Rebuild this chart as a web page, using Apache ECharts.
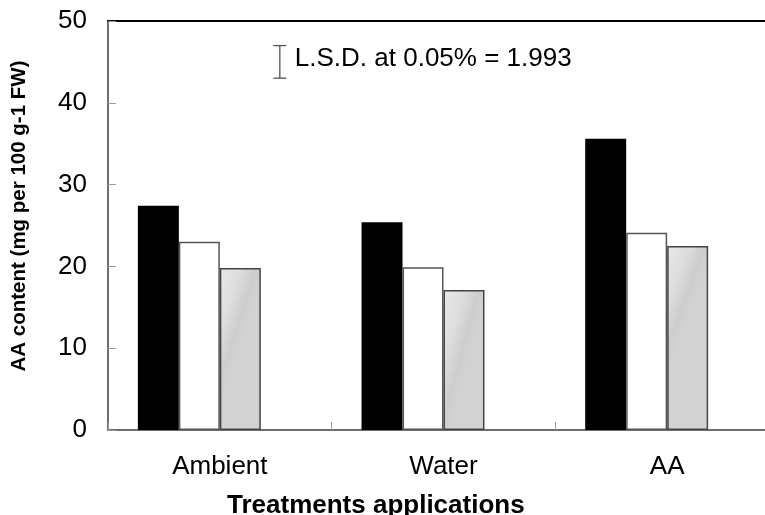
<!DOCTYPE html>
<html>
<head>
<meta charset="utf-8">
<script src="https://cdn.jsdelivr.net/npm/echarts@6/dist/echarts.min.js"></script>
<style>html,body{margin:0;padding:0;background:#fff}#c{width:765px;height:515px}</style>
</head>
<body>
<div id="c"></div>
<script>
var categories = ['Ambient', 'Water', 'AA'];
var seriesBlack = [27.4, 25.4, 35.6];
var seriesWhite = [23.0, 19.9, 24.1];
var seriesGray = [19.8, 17.1, 22.5];
var yTicks = [0, 10, 20, 30, 40, 50];
var lsdValue = 1.993;
var lsdCenter = 45;
var lsdLabel = 'L.S.D. at 0.05% = 1.993';

var FONT = 'Liberation Sans';
var chart = echarts.init(document.getElementById('c'), null, {renderer: 'canvas'});

var option = {
  animation: false,
  backgroundColor: '#fff',
  grid: {left: 108, right: -14, top: 21, bottom: 85, containLabel: false, outerBoundsMode: 'none'},
  title: {
    text: 'Treatments applications',
    left: 222, top: 488,
    textStyle: {fontFamily: FONT, fontWeight: 'bold', fontSize: 26, color: '#000'}
  },
  graphic: [{
    type: 'text',
    x: 19, y: 216, rotation: Math.PI / 2,
    style: {text: 'AA content (mg per 100 g-1 FW)', font: 'bold 20.5px ' + FONT,
            fill: '#000', align: 'center', verticalAlign: 'middle'}
  }],
  xAxis: [{
    type: 'category', data: categories,
    axisLine: {show: true, lineStyle: {color: '#6e6e6e', width: 2}},
    axisTick: {show: true, inside: true, length: 8, lineStyle: {color: '#999', width: 1}},
    axisLabel: {fontFamily: FONT, fontSize: 26, color: '#000', margin: 24},
    splitLine: {show: false}
  }, {
    type: 'category', data: categories, position: 'top',
    axisLine: {show: true, lineStyle: {color: '#000', width: 2}},
    axisTick: {show: false}, axisLabel: {show: false}, splitLine: {show: false}
  }],
  yAxis: {
    type: 'value', min: yTicks[0], max: yTicks[yTicks.length - 1], interval: 10,
    axisLine: {show: true, lineStyle: {color: '#6e6e6e', width: 2}},
    axisTick: {show: true, inside: true, length: 8, lineStyle: {color: '#999', width: 1}},
    axisLabel: {fontFamily: FONT, fontSize: 26, color: '#000', margin: 21},
    splitLine: {show: false}
  },
  series: [{
    type: 'bar', name: 'black', data: seriesBlack, barGap: '0%', barCategoryGap: '26.7%',
    itemStyle: {color: '#000'}
  }, {
    type: 'bar', name: 'white', data: seriesWhite,
    itemStyle: {color: '#fff', borderColor: '#555', borderWidth: 1.5}
  }, {
    type: 'bar', name: 'gray', data: seriesGray,
    itemStyle: {
      color: new echarts.graphic.LinearGradient(0, 0, 1, 0.08, [
        {offset: 0, color: '#e8e8e8'}, {offset: 0.45, color: '#dedede'},
        {offset: 0.8, color: '#cdcdcd'}, {offset: 1, color: '#d2d2d2'}
      ]),
      borderColor: '#444', borderWidth: 1.5
    }
  }, {
    type: 'bar', name: 'empty', data: [null, null, null]
  }, {
    type: 'custom', name: 'lsd', data: [[0, lsdCenter]],
    renderItem: function (params, api) {
      var c = api.coord([api.value(0), api.value(1)]);
      var top = api.coord([api.value(0), api.value(1) + lsdValue]);
      var bot = api.coord([api.value(0), api.value(1) - lsdValue]);
      var x = c[0] + 60;
      var s = {stroke: '#555', lineWidth: 1.3};
      return {type: 'group', children: [
        {type: 'line', shape: {x1: x, y1: top[1], x2: x, y2: bot[1]}, style: s},
        {type: 'line', shape: {x1: x - 6.5, y1: top[1], x2: x + 6.5, y2: top[1]}, style: s},
        {type: 'line', shape: {x1: x - 6.5, y1: bot[1], x2: x + 6.5, y2: bot[1]}, style: s},
        {type: 'text', x: x + 15, y: c[1] - 3, style: {text: lsdLabel, font: '26px ' + FONT,
          fill: '#000', align: 'left', verticalAlign: 'middle'}}
      ]};
    }
  }]
};
chart.setOption(option);
</script>
</body>
</html>
